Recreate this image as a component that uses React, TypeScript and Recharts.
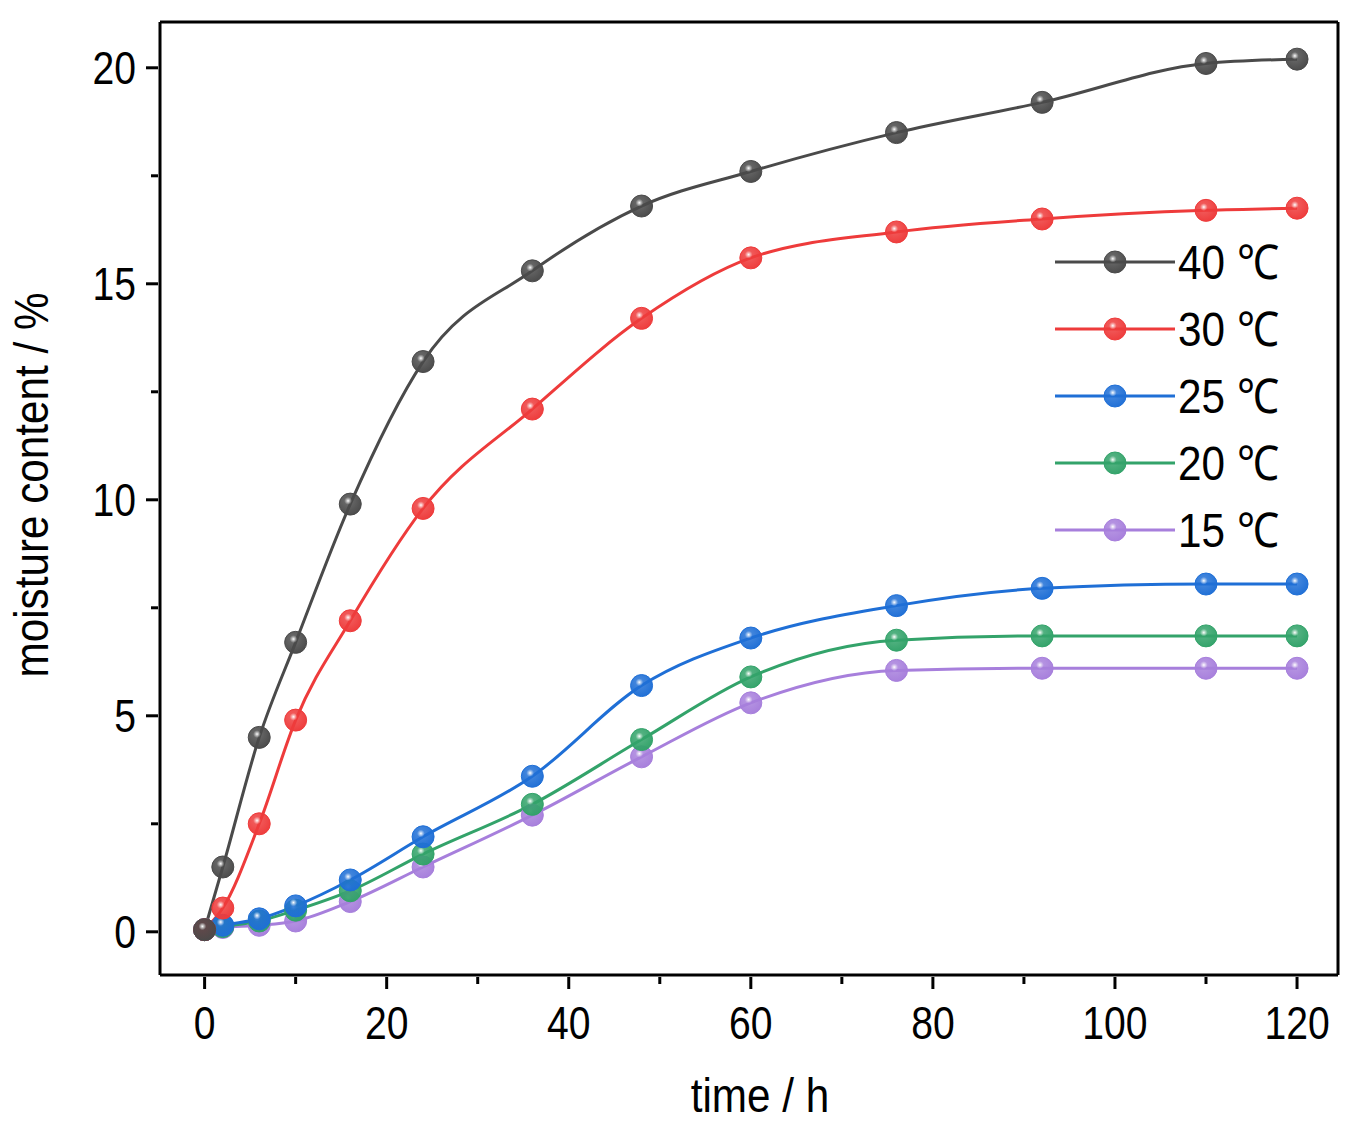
import { LineChart, Line, XAxis, YAxis } from 'recharts';

const hours = [0, 2, 6, 10, 16, 24, 36, 48, 60, 76, 92, 110, 120];
const t40 = [0.05, 1.5, 4.5, 6.7, 9.9, 13.2, 15.3, 16.8, 17.6, 18.5, 19.2, 20.1, 20.2];
const t30 = [0.05, 0.55, 2.5, 4.9, 7.2, 9.8, 12.1, 14.2, 15.6, 16.2, 16.5, 16.7, 16.75];
const t25 = [0.05, 0.15, 0.3, 0.6, 1.2, 2.2, 3.6, 5.7, 6.8, 7.55, 7.95, 8.05, 8.05];
const t20 = [0.05, 0.12, 0.25, 0.5, 0.95, 1.8, 2.95, 4.45, 5.9, 6.75, 6.85, 6.85, 6.85];
const t15 = [0.05, 0.1, 0.15, 0.25, 0.7, 1.5, 2.7, 4.05, 5.3, 6.05, 6.1, 6.1, 6.1];

const xTicks = [0, 10, 20, 30, 40, 50, 60, 70, 80, 90, 100, 110, 120];
const yTicks = [0, 2.5, 5, 7.5, 10, 12.5, 15, 17.5, 20];

const series = [
  { key: 't40', name: '40 ℃', color: '#4a4a4a', data: t40 },
  { key: 't30', name: '30 ℃', color: '#ee3b3b', data: t30 },
  { key: 't25', name: '25 ℃', color: '#1f6fd6', data: t25 },
  { key: 't20', name: '20 ℃', color: '#33a36a', data: t20 },
  { key: 't15', name: '15 ℃', color: '#a77fdc', data: t15 },
];

const data = hours.map((h, i) => {
  const row: any = { h };
  series.forEach((s) => (row[s.key] = s.data[i]));
  return row;
});

const font = '"Liberation Sans Narrow", "Liberation Sans", Arial, sans-serif';

const Ball = (color: string, id: string) => (props: any) => {
  const { cx, cy } = props;
  if (cx == null || cy == null) return null;
  return <circle key={`${id}-${cx}`} cx={cx} cy={cy} r={11} fill={`url(#g-${id})`} stroke={color} strokeWidth={1} />;
};

const XTick = (props: any) => {
  const { x, y, payload } = props;
  const major = payload.value % 20 === 0;
  return (
    <g>
      <line x1={x} x2={x} y1={y} y2={y + (major ? 12 : 7)} stroke="#000" strokeWidth={3} />
      {major && (
        <text x={x} y={y + 62} textAnchor="middle" fontSize={46} fontFamily={font} fill="#000"
          transform={`translate(${x},0) scale(0.85,1) translate(${-x},0)`}>
          {payload.value}
        </text>
      )}
    </g>
  );
};

const YTick = (props: any) => {
  const { x, y, payload } = props;
  const major = payload.value % 5 === 0;
  return (
    <g>
      <line x1={x} x2={x - (major ? 12 : 7)} y1={y} y2={y} stroke="#000" strokeWidth={3} />
      {major && (
        <text x={x - 22} y={y + 16} textAnchor="end" fontSize={46} fontFamily={font} fill="#000"
          transform={`translate(${x - 22},0) scale(0.85,1) translate(${-(x - 22)},0)`}>
          {payload.value}
        </text>
      )}
    </g>
  );
};

export default function App() {
  return (
    <div style={{ margin: -8, position: 'relative', width: 1358, height: 1125, background: '#fff' }}>
      <LineChart width={1358} height={1125} data={data} margin={{ top: 0, right: 0, left: 0, bottom: 0 }}>
        <defs>
          {series.map((s) => (
            <radialGradient key={s.key} id={`g-${s.key}`} cx="0.4" cy="0.35" r="0.7">
              <stop offset="0%" stopColor="#ffffff" />
              <stop offset="25%" stopColor={s.color} stopOpacity={0.85} />
              <stop offset="100%" stopColor={s.color} />
            </radialGradient>
          ))}
        </defs>
        <XAxis dataKey="h" type="number" domain={[-4.9, 124.5]} ticks={xTicks} tick={<XTick />} tickLine={false}
          tickSize={0} axisLine={{ stroke: '#000', strokeWidth: 3 }} interval={0} height={150} />
        <XAxis xAxisId="top" orientation="top" dataKey="h" type="number" domain={[-4.9, 124.5]} tick={false}
          tickLine={false} axisLine={{ stroke: '#000', strokeWidth: 3 }} height={22} />
        <YAxis type="number" domain={[-1, 21.06]} ticks={yTicks} tick={<YTick />} tickLine={false} tickSize={0}
          axisLine={{ stroke: '#000', strokeWidth: 3 }} interval={0} width={160} />
        <YAxis yAxisId="right" orientation="right" type="number" domain={[-1, 21.06]} tick={false} tickLine={false}
          axisLine={{ stroke: '#000', strokeWidth: 3 }} width={20} />
        {[...series].reverse().map((s) => (
          <Line key={s.key} dataKey={s.key} type="monotone" stroke={s.color} strokeWidth={3}
            dot={Ball(s.color, s.key)} isAnimationActive={false} />
        ))}
      </LineChart>
      <svg style={{ position: 'absolute', left: 0, top: 0 }} width={1358} height={1125} pointerEvents="none">
        <defs>
          {series.map((s) => (
            <radialGradient key={s.key} id={`lg-${s.key}`} cx="0.4" cy="0.35" r="0.7">
              <stop offset="0%" stopColor="#ffffff" />
              <stop offset="25%" stopColor={s.color} stopOpacity={0.85} />
              <stop offset="100%" stopColor={s.color} />
            </radialGradient>
          ))}
        </defs>
        {series.map((s, i) => {
          const y = 262 + i * 67;
          return (
            <g key={s.key}>
              <line x1={1055} x2={1175} y1={y} y2={y} stroke={s.color} strokeWidth={3} />
              <circle cx={1115} cy={y} r={11} fill={`url(#lg-${s.key})`} stroke={s.color} />
              <text x={1178} y={y + 17} fontSize={48} fontFamily={font} fill="#000"
                transform="translate(1178,0) scale(0.88,1) translate(-1178,0)">{s.name}</text>
            </g>
          );
        })}
        <text x={760} y={1112} textAnchor="middle" fontSize={48} fontFamily={font} fill="#000"
          transform="translate(760,0) scale(0.88,1) translate(-760,0)">time / h</text>
        <text x={0} y={0} transform="translate(48,485) rotate(-90) scale(0.88,1)" textAnchor="middle" fontSize={48}
          fontFamily={font} fill="#000">moisture content / %</text>
      </svg>
    </div>
  );
}
